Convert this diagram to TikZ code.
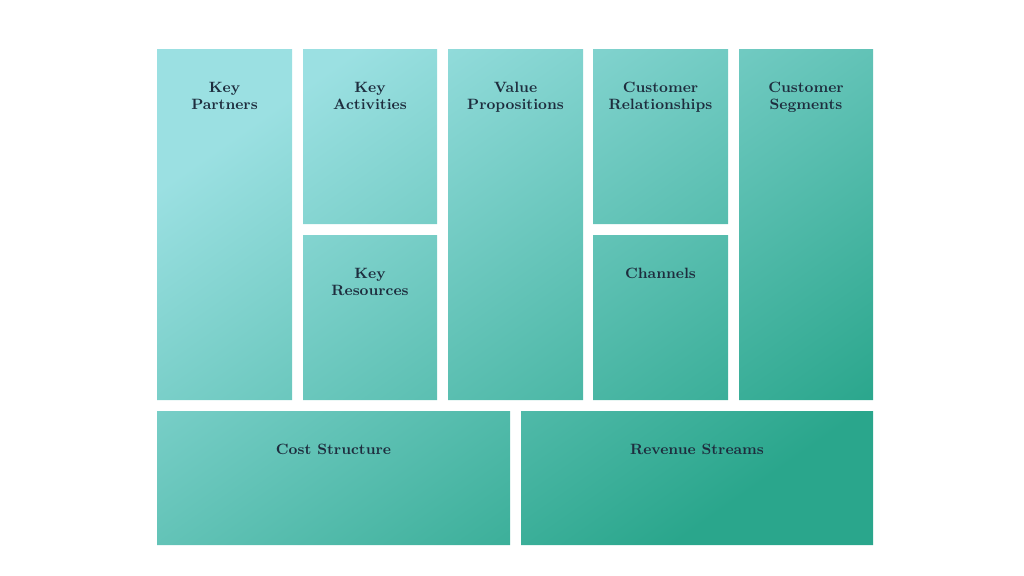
\documentclass[tikz,border=0pt]{standalone}
\usepackage{tikz}
\usetikzlibrary{positioning,calc}
\definecolor{canvaslight}{RGB}{155,224,226}
\definecolor{canvasmid}{RGB}{100,198,188}
\definecolor{canvasdark}{RGB}{42,166,140}
\definecolor{labelnavy}{RGB}{30,45,62}

\begin{document}
\begin{tikzpicture}[
    x=0.02cm, y=-0.02cm,
    blocklabel/.style={anchor=north, inner sep=0pt, yshift=-0.66cm, align=center,
        text=labelnavy, font=\fontsize{8.5}{9.6}\selectfont\bfseries},
]
\useasboundingbox (0,0) rectangle (1024,575);

% === Canvas blocks (named regions) ===
\coordinate (kpA) at (157,49);   \coordinate (kpB) at (292,400);
\coordinate (kaA) at (303,49);   \coordinate (kaB) at (437,224);
\coordinate (krA) at (303,235);  \coordinate (krB) at (437,400);
\coordinate (vpA) at (448,49);   \coordinate (vpB) at (583,400);
\coordinate (crA) at (593,49);   \coordinate (crB) at (728,224);
\coordinate (chA) at (593,235);  \coordinate (chB) at (728,400);
\coordinate (csA) at (739,49);   \coordinate (csB) at (873,400);
\coordinate (costA) at (157,411); \coordinate (costB) at (510,545);
\coordinate (revA) at (521,411);  \coordinate (revB) at (873,545);

% === Shared gradient across all blocks ===
\begin{scope}
    \clip (kpA) rectangle (kpB) (kaA) rectangle (kaB) (krA) rectangle (krB)
          (vpA) rectangle (vpB) (crA) rectangle (crB) (chA) rectangle (chB)
          (csA) rectangle (csB) (costA) rectangle (costB) (revA) rectangle (revB);
    \shade[top color=canvaslight, middle color=canvasmid, bottom color=canvasdark,
           shading angle=35]
        (157,49) rectangle (873,545);
\end{scope}

% === Labels ===
\node[blocklabel] (kp)   at ($(kpA)!0.5!(kpB|-kpA)$) {Key\\Partners};
\node[blocklabel] (ka)   at ($(kaA)!0.5!(kaB|-kaA)$) {Key\\Activities};
\node[blocklabel] (kr)   at ($(krA)!0.5!(krB|-krA)$) {Key\\Resources};
\node[blocklabel] (vp)   at ($(vpA)!0.5!(vpB|-vpA)$) {Value\\Propositions};
\node[blocklabel] (cr)   at ($(crA)!0.5!(crB|-crA)$) {Customer\\Relationships};
\node[blocklabel] (ch)   at ($(chA)!0.5!(chB|-chA)$) {Channels};
\node[blocklabel] (cs)   at ($(csA)!0.5!(csB|-csA)$) {Customer\\Segments};
\node[blocklabel] (cost) at ($(costA)!0.5!(costB|-costA)$) {Cost Structure};
\node[blocklabel] (rev)  at ($(revA)!0.5!(revB|-revA)$) {Revenue Streams};

\end{tikzpicture}
\end{document}
